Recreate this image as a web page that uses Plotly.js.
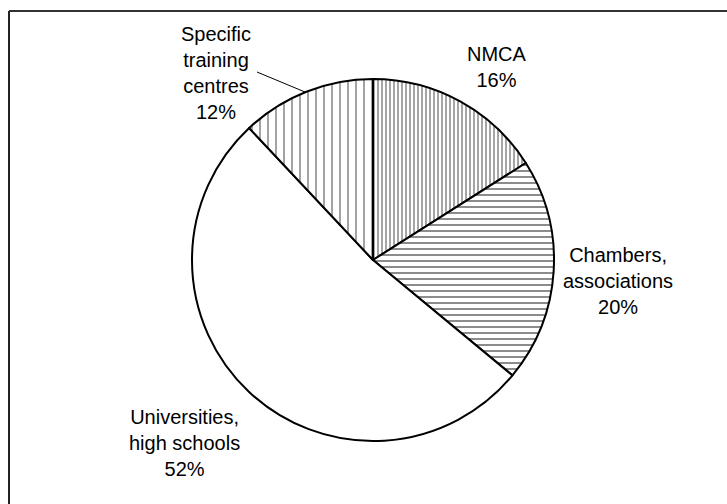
<!DOCTYPE html>
<html>
<head>
<meta charset="utf-8">
<script src="https://cdn.plot.ly/plotly-3.0.1.min.js"></script>
<style>html,body{margin:0;padding:0;background:#fff;}#chart{width:727px;height:504px;}</style>
</head>
<body>
<div id="chart"></div>
<script>
// Data
const categories = ["NMCA", "Chambers,<br>associations", "Universities,<br>high schools", "Specific<br>training<br>centres"];
const values = [16, 20, 52, 12];
const patternShapes = ["|", "-", "", "|"];

// Label placement (pixel centres) and styling
const W = 727, H = 504;
const labelPos = [[497, 67], [618, 281], [185, 443], [216, 73]];
const px = x => x / W;
const py = y => 1 - y / H;

const annotations = categories.map((c, i) => ({
  xref: "paper", yref: "paper",
  x: px(labelPos[i][0]), y: py(labelPos[i][1]),
  xanchor: "center", yanchor: "middle",
  text: c + "<br>" + values[i] + "%",
  showarrow: false,
  font: {family: "Liberation Sans, Arial, sans-serif", size: 20, color: "#000"}
}));

const cx = 373, cy = 260, r = 181;

const trace = {
  type: "pie",
  labels: categories,
  values: values,
  sort: false,
  direction: "clockwise",
  rotation: 0,
  textinfo: "none",
  hoverinfo: "skip",
  showlegend: false,
  domain: {x: [px(cx - r), px(cx + r)], y: [py(cy + r), py(cy - r)]},
  marker: {
    colors: ["#fff", "#fff", "#fff", "#fff"],
    line: {color: "#000", width: 2},
    pattern: {
      shape: patternShapes,
      size: [4, 6, 8, 8],
      solidity: [0.35, 0.3, 0.18, 0.18],
      fgcolor: "#000",
      bgcolor: "#fff",
      fillmode: "overlay"
    }
  }
};

const layout = {
  width: W, height: H,
  margin: {l: 0, r: 0, t: 0, b: 0},
  paper_bgcolor: "#fff",
  plot_bgcolor: "#fff",
  annotations: annotations,
  shapes: [
    {type: "line", xref: "paper", yref: "paper", x0: px(9), y0: py(11), x1: 1, y1: py(11), line: {color: "#333", width: 2}},
    {type: "line", xref: "paper", yref: "paper", x0: px(9), y0: py(11), x1: px(9), y1: 0, line: {color: "#222", width: 2}},
    {type: "line", xref: "paper", yref: "paper", x0: px(257), y0: py(72), x1: px(305), y1: py(92), line: {color: "#000", width: 1}}
  ]
};

Plotly.newPlot("chart", [trace], layout, {displayModeBar: false, staticPlot: true});
</script>
</body>
</html>
